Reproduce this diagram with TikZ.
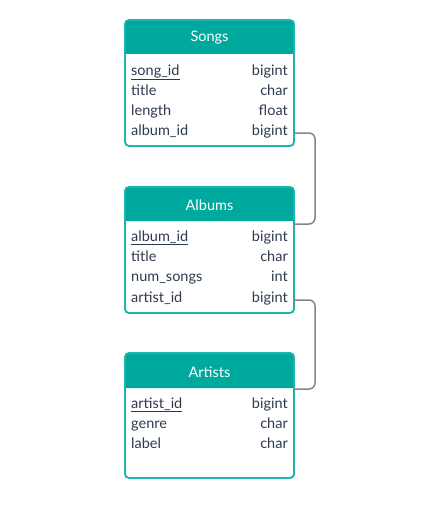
\documentclass[tikz,border=0pt]{standalone}
\usepackage{fontspec}
\setmainfont{Lato}
\definecolor{headteal}{HTML}{00A99D}
\definecolor{bordteal}{HTML}{1DB5AD}
\definecolor{rowtext}{HTML}{2E3B4E}
\definecolor{conngray}{HTML}{858585}
\begin{document}
\begin{tikzpicture}[x=1pt,y=-1pt,
  box/.style={draw=bordteal,line width=1.6pt,fill=white,rounded corners=4pt},
  head/.style={fill=headteal},
  title/.style={text=white,font=\fontsize{14.5}{16}\selectfont,anchor=center,inner sep=0pt},
  fld/.style={text=rowtext,font=\fontsize{14.5}{16}\selectfont,anchor=base west,inner sep=0pt},
  typ/.style={text=rowtext,font=\fontsize{14.5}{16}\selectfont,anchor=base east,inner sep=0pt},
  conn/.style={draw=conngray,line width=1.5pt,rounded corners=6pt}]
\useasboundingbox (0,0) rectangle (434,511);
% ---------- Songs
\path[box] (125,20) rectangle (294,146);
\fill[head] (125,54) [rounded corners=4pt] -- (125,20) -- (294,20) [sharp corners] -- (294,54) -- cycle;
\draw[box,fill=none] (125,20) rectangle (294,146);
\coordinate (songsE) at (294,20);
\node[title] (songsT) at (209.5,38) {Songs};
\node[fld] (s1) at (131,75) {\underline{song\_id}};
\node[typ] (s1t) at (288,75) {bigint};
\node[fld] (s2) at (131,95) {title};
\node[typ] (s2t) at (288,95) {char};
\node[fld] (s3) at (131,115) {length};
\node[typ] (s3t) at (288,115) {float};
\node[fld] (s4) at (131,135) {album\_id};
\node[typ] (s4t) at (288,135) {bigint};
% ---------- Albums
\path[box] (125,187) rectangle (294,313);
\fill[head] (125,221) [rounded corners=4pt] -- (125,187) -- (294,187) [sharp corners] -- (294,221) -- cycle;
\draw[box,fill=none] (125,187) rectangle (294,313);
\coordinate (albumsE) at (294,187);
\coordinate (albumsH) at (294,224);
\node[title] (albumsT) at (209.5,205) {Albums};
\node[fld] (a1) at (131,241) {\underline{album\_id}};
\node[typ] (a1t) at (288,241) {bigint};
\node[fld] (a2) at (131,261) {title};
\node[typ] (a2t) at (288,261) {char};
\node[fld] (a3) at (131,281) {num\_songs};
\node[typ] (a3t) at (288,281) {int};
\node[fld] (a4) at (131,302) {artist\_id};
\node[typ] (a4t) at (288,302) {bigint};
% ---------- Artists
\path[box] (125,353) rectangle (294,478);
\fill[head] (125,388) [rounded corners=4pt] -- (125,353) -- (294,353) [sharp corners] -- (294,388) -- cycle;
\draw[box,fill=none] (125,353) rectangle (294,478);
\coordinate (artistsE) at (294,353);
\coordinate (artistsH) at (294,389);
\node[title] (artistsT) at (209.5,372) {Artists};
\node[fld] (r1) at (131,408) {\underline{artist\_id}};
\node[typ] (r1t) at (288,408) {bigint};
\node[fld] (r2) at (131,428) {genre};
\node[typ] (r2t) at (288,428) {char};
\node[fld] (r3) at (131,448) {label};
\node[typ] (r3t) at (288,448) {char};
% ---------- connectors
\coordinate (c1) at (294,133);
\coordinate (c2) at (294,300);
\draw[conn] (c1) -- (315,133) -- (315,224) -- (albumsH);
\draw[conn] (c2) -- (315,300) -- (315,389) -- (artistsH);
\end{tikzpicture}
\end{document}
